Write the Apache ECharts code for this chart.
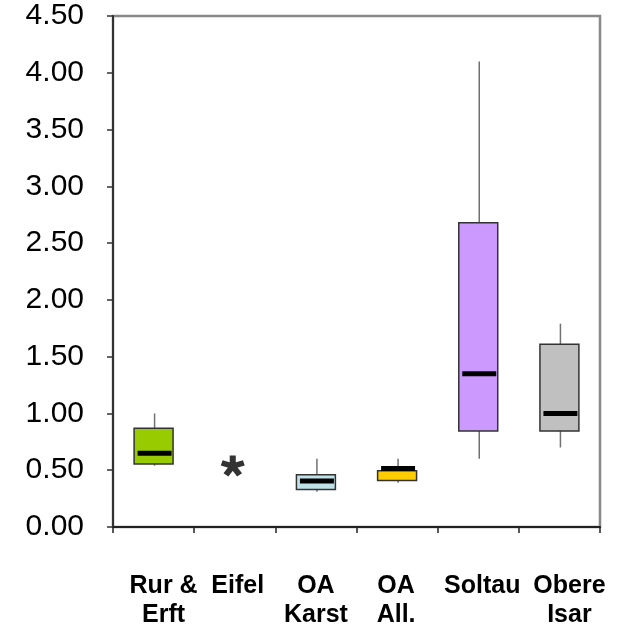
<!DOCTYPE html>
<html>
<head>
<meta charset="utf-8">
<script src="https://cdn.jsdelivr.net/npm/echarts@6/dist/echarts.min.js"></script>
<style>
  html, body { margin: 0; padding: 0; background: #fff; }
  #chart { width: 630px; height: 637px; }
</style>
</head>
<body>
<div id="chart"></div>
<script>
// ---- data ----
const categories = ['Rur &\nErft', 'Eifel', 'OA\nKarst', 'OA\nAll.', 'Soltau', 'Obere\nIsar'];
const minVals    = [0.54, null, 0.31, 0.39, 0.60, 0.70];
const q1Vals     = [0.555, null, 0.33, 0.41, 0.845, 0.845];
const medianVals = [0.65, null, 0.405, 0.515, 1.35, 1.00];
const q3Vals     = [0.87, null, 0.46, 0.495, 2.68, 1.61];
const maxVals    = [1.00, null, 0.60, 0.60, 4.10, 1.79];
const singleVals = [null, 0.537, null, null, null, null];   // single observation (asterisk)
const yTicks     = [0, 0.5, 1, 1.5, 2, 2.5, 3, 3.5, 4, 4.5];

// ---- styles ----
const boxColors = ['#99cc00', null, '#bfe2e8', '#ffcc00', '#cc99ff', '#c0c0c0'];
const labelShift = [20, 6, 0, -2, 8, 20];
const FONT = "'Liberation Sans', Arial, Helvetica, sans-serif";

const boxRows = [];
categories.forEach((c, i) => {
  if (minVals[i] != null) boxRows.push([i, minVals[i], q1Vals[i], medianVals[i], q3Vals[i], maxVals[i]]);
});
const singleRows = [];
singleVals.forEach((v, i) => { if (v != null) singleRows.push([i, v]); });

// five-armed asterisk symbol
function asteriskPath() {
  const L = 10, w = 2.6;
  let d = '';
  const angles = [90, 18, 162, -54, 234];
  angles.forEach(a => {
    const t = a * Math.PI / 180;
    const dx = Math.cos(t), dy = -Math.sin(t);
    const px = -dy, py = dx;
    const pts = [
      [px * w, py * w],
      [dx * L + px * w, dy * L + py * w],
      [dx * L - px * w, dy * L - py * w],
      [-px * w, -py * w]
    ];
    d += 'M' + pts.map(p => p[0].toFixed(2) + ' ' + p[1].toFixed(2)).join(' L') + ' Z ';
  });
  return 'path://' + d;
}

const rich = {};
labelShift.forEach((s, i) => {
  rich['s' + i] = {
    fontFamily: FONT, fontWeight: 'bold', fontSize: 25, color: '#000',
    lineHeight: 29,
    padding: s >= 0 ? [0, 0, 0, s] : [0, -s, 0, 0]
  };
});

const chart = echarts.init(document.getElementById('chart'), null, { renderer: 'canvas' });
chart.setOption({
  animation: false,
  backgroundColor: '#ffffff',
  grid: {
    left: 113, right: 30, top: 16, bottom: 110,
    show: true, borderColor: '#888888', borderWidth: 2.5, backgroundColor: 'transparent'
  },
  xAxis: {
    type: 'category',
    data: categories,
    boundaryGap: true,
    axisLine: { show: true, lineStyle: { color: '#222', width: 2 } },
    axisTick: { show: true, length: 6, inside: false, alignWithLabel: false, lineStyle: { color: '#222', width: 1.5 } },
    axisLabel: {
      interval: 0,
      margin: 45,
      formatter: (v, i) => v.split('\n').map(l => '{s' + i + '|' + l + '}').join('\n'),
      rich: rich
    },
    splitLine: { show: false }
  },
  yAxis: {
    type: 'value',
    min: 0, max: 4.5, interval: 0.5,
    axisLine: { show: true, lineStyle: { color: '#333', width: 2 } },
    axisTick: { show: true, length: 6, lineStyle: { color: '#333', width: 1.5 } },
    axisLabel: {
      margin: 29,
      fontFamily: FONT, fontSize: 30, color: '#000',
      formatter: v => v.toFixed(2)
    },
    splitLine: { show: false }
  },
  series: [
    {
      type: 'custom',
      data: boxRows,
      encode: { x: 0, y: [1, 2, 3, 4, 5] },
      renderItem: function (params, api) {
        const i = api.value(0);
        const vMin = api.value(1), vQ1 = api.value(2), vMed = api.value(3), vQ3 = api.value(4), vMax = api.value(5);
        const c = api.coord([i, vMed]);
        const bw = api.size([1, 0])[0] * 0.48;
        const yMin = api.coord([i, vMin])[1];
        const yQ1 = api.coord([i, vQ1])[1];
        const yMed = c[1];
        const yQ3 = api.coord([i, vQ3])[1];
        const yMax = api.coord([i, vMax])[1];
        const x0 = c[0] - bw / 2, x1 = c[0] + bw / 2;
        const wx = c[0] + 1;
        const top = Math.min(yQ1, yQ3), bottom = Math.max(yQ1, yQ3);
        return {
          type: 'group',
          children: [
            { type: 'line', shape: { x1: wx, y1: yMax, x2: wx, y2: top }, style: { stroke: '#707070', lineWidth: 1.5 } },
            { type: 'line', shape: { x1: wx, y1: bottom, x2: wx, y2: yMin }, style: { stroke: '#707070', lineWidth: 1.5 } },
            { type: 'rect', shape: { x: x0, y: top, width: bw, height: bottom - top },
              style: { fill: boxColors[i], stroke: '#333333', lineWidth: 1.5 } },
            { type: 'line', shape: { x1: x0 + 3.5, y1: yMed, x2: x1 - 1.5, y2: yMed },
              style: { stroke: '#000000', lineWidth: 5 } }
          ]
        };
      },
      z: 3
    },
    {
      type: 'scatter',
      data: singleRows,
      symbol: asteriskPath(),
      symbolSize: [24, 22],
      symbolKeepAspect: true,
      symbolOffset: [-2, 0],
      itemStyle: { color: '#000000' },
      z: 4
    }
  ]
});
</script>
</body>
</html>
